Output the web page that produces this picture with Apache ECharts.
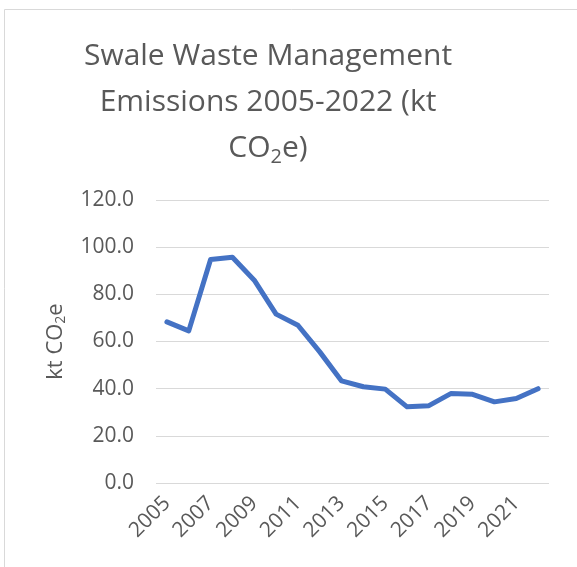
<!DOCTYPE html>
<html lang="en">
<head>
    <meta charset="UTF-8">
    <title>Swale Waste Management Emissions</title>
    <script src="https://cdn.jsdelivr.net/npm/echarts@6/dist/echarts.min.js"></script>
    <style>
        html, body { margin: 0; padding: 0; background: #fff; }
    </style>
</head>
<body>
<div id="main" style="width: 577px; height: 567px;"></div>
<script>
    // years and emissions (kt CO2e)
    var years = ['2005','2006','2007','2008','2009','2010','2011','2012','2013',
                 '2014','2015','2016','2017','2018','2019','2020','2021','2022'];
    var emissions = [68.3, 64.5, 94.8, 95.7, 86.0, 71.6, 66.9, 55.6, 43.3,
                     40.8, 39.8, 32.3, 32.8, 37.9, 37.6, 34.4, 35.8, 40.0];

    var grey = '#595959';
    var font = '"Open Sans", sans-serif';

    var mychart = echarts.init(document.getElementById('main'));
    mychart.setOption({
        animation: false,
        graphic: [{
            type: 'rect',
            shape: { x: 4.5, y: 9.5, width: 700, height: 700 },
            style: { fill: 'none', stroke: '#d9d9d9', lineWidth: 1 },
            silent: true
        }],
        title: {
            text: '{t|Swale Waste Management}\n{t|Emissions 2005-2022 (kt}\n{t|CO}{s|2}{t|e)}',
            left: 263,
            top: 28,
            textAlign: 'center',
            textStyle: {
                rich: {
                    t: { fontFamily: font, fontSize: 30, fontWeight: 'normal', color: grey, lineHeight: 46 },
                    s: { fontFamily: font, fontSize: 20, fontWeight: 'normal', color: grey, lineHeight: 46, padding: [18, 0, 0, 0] }
                }
            }
        },
        grid: { left: 156, right: 28, top: 200, bottom: 84, containLabel: false },
        xAxis: {
            type: 'category',
            data: years,
            boundaryGap: true,
            axisLine: { show: false },
            axisTick: { show: false },
            axisLabel: {
                interval: 1,
                rotate: 45,
                color: grey,
                fontFamily: font,
                fontSize: 21,
                margin: 17
            }
        },
        yAxis: {
            type: 'value',
            min: 0,
            max: 120,
            interval: 20,
            name: '{t|kt CO}{s|2}{t|e}',
            nameLocation: 'middle',
            nameGap: 88,
            nameRotate: 90,
            nameTextStyle: {
                rich: {
                    t: { fontFamily: font, fontSize: 22, color: grey },
                    s: { fontFamily: font, fontSize: 14, color: grey, padding: [10, 0, 0, 0] }
                }
            },
            axisLine: { show: false },
            axisTick: { show: false },
            axisLabel: {
                color: grey,
                fontFamily: font,
                fontSize: 21,
                margin: 22,
                formatter: function (v) { return v.toFixed(1); }
            },
            splitLine: { lineStyle: { color: '#d9d9d9', width: 1 } }
        },
        series: [{
            name: 'Emissions',
            type: 'line',
            data: emissions,
            showSymbol: false,
            lineStyle: { color: '#4472C4', width: 5, cap: 'round', join: 'round' },
            itemStyle: { color: '#4472C4' }
        }]
    });
</script>
</body>
</html>
